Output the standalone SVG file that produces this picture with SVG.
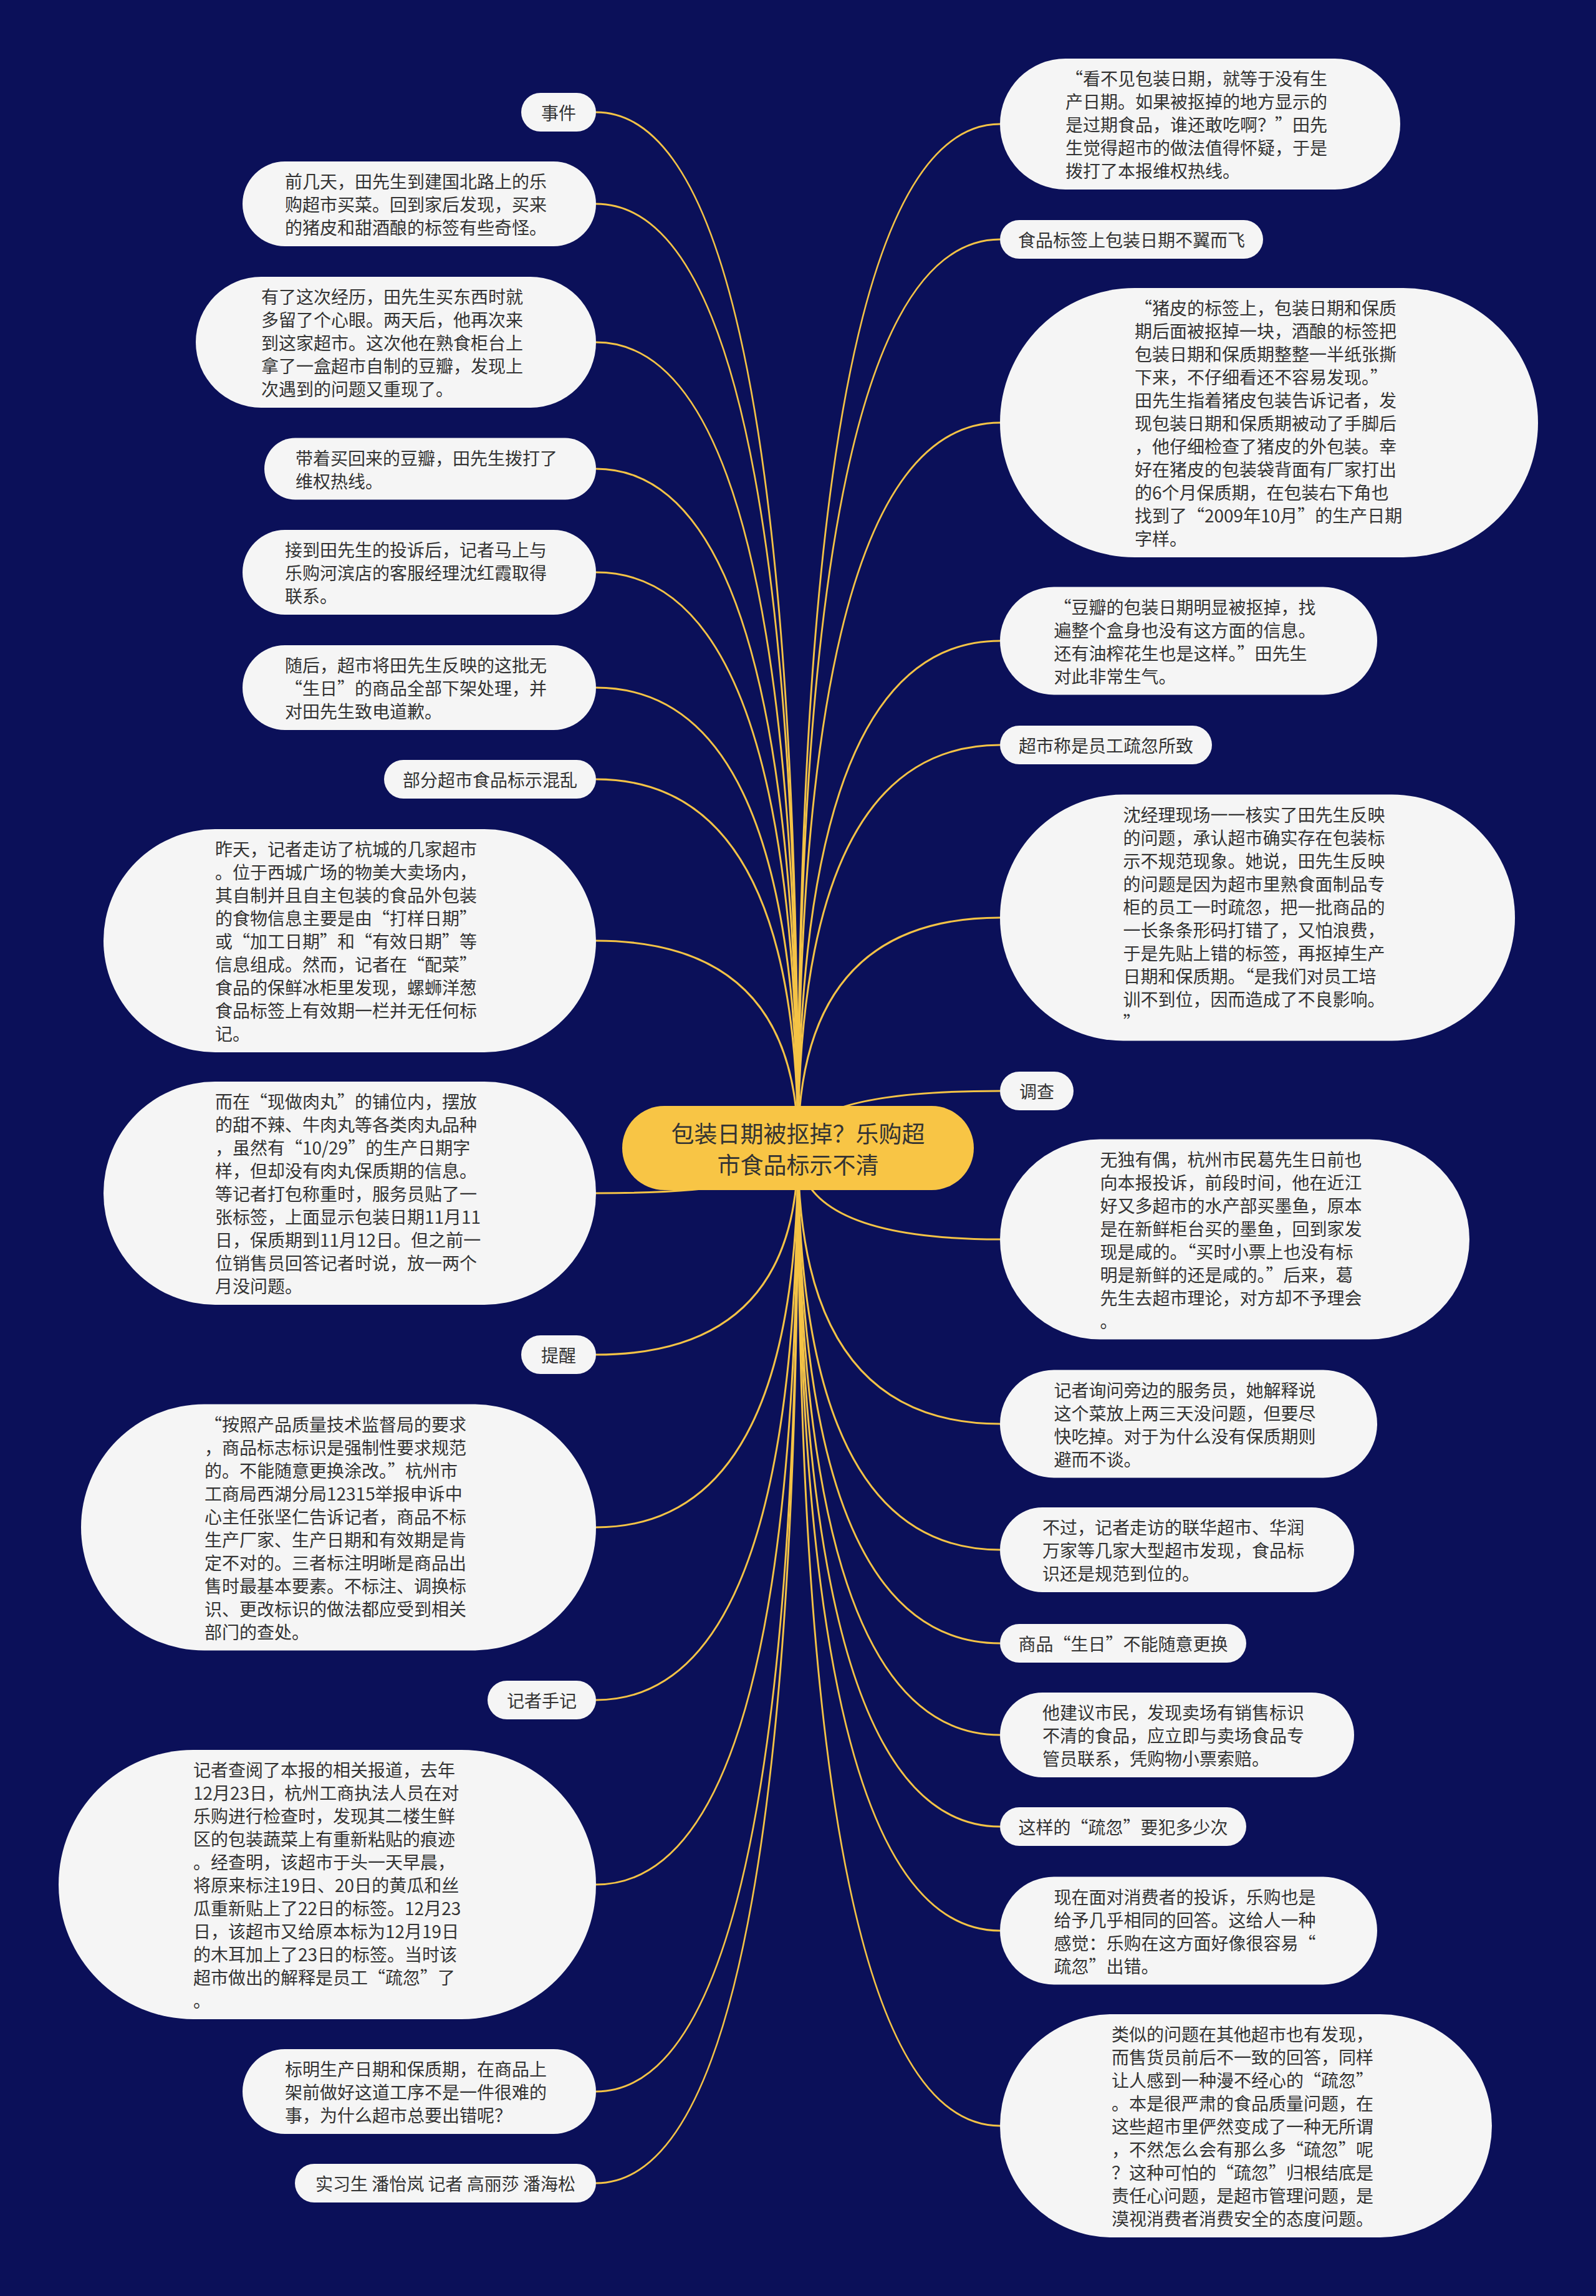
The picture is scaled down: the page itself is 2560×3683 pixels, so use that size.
<svg xmlns="http://www.w3.org/2000/svg" width="2560" height="3683" viewBox="0 0 2560 3683">
<style>
.bg{fill:#0B1059}
.n rect{fill:#F5F5F5}
.t{font-family:"Noto Sans CJK SC","Noto Sans",sans-serif;font-size:28px;fill:#333333;dominant-baseline:central}
.m{text-anchor:middle}
.conn path{fill:none;stroke:#F4C346;stroke-width:3}
.root rect{fill:#F8C545}
.rt{font-family:"Noto Sans CJK SC","Noto Sans",sans-serif;font-size:37px;fill:#333333;dominant-baseline:central;text-anchor:middle}
</style>
<rect class="bg" x="0" y="0" width="2560" height="3683"/>
<g id="connectors" class="conn">
<path d="M1280,1842 Q1280,180 956,180"/>
<path d="M1280,1842 Q1280,327 956,327"/>
<path d="M1280,1842 Q1280,549 956,549"/>
<path d="M1280,1842 Q1280,752 956,752"/>
<path d="M1280,1842 Q1280,918 956,918"/>
<path d="M1280,1842 Q1280,1103 956,1103"/>
<path d="M1280,1842 Q1280,1250 956,1250"/>
<path d="M1280,1842 Q1280,1509 956,1509"/>
<path d="M1280,1842 Q1280,1914 956,1914"/>
<path d="M1280,1842 Q1280,2173 956,2173"/>
<path d="M1280,1842 Q1280,2450 956,2450"/>
<path d="M1280,1842 Q1280,2727 956,2727"/>
<path d="M1280,1842 Q1280,3023 956,3023"/>
<path d="M1280,1842 Q1280,3355 956,3355"/>
<path d="M1280,1842 Q1280,3502 956,3502"/>
<path d="M1280,1842 Q1280,199 1604,199"/>
<path d="M1280,1842 Q1280,384 1604,384"/>
<path d="M1280,1842 Q1280,678 1604,678"/>
<path d="M1280,1842 Q1280,1028 1604,1028"/>
<path d="M1280,1842 Q1280,1195 1604,1195"/>
<path d="M1280,1842 Q1280,1472 1604,1472"/>
<path d="M1280,1842 Q1280,1750 1604,1750"/>
<path d="M1280,1842 Q1280,1988 1604,1988"/>
<path d="M1280,1842 Q1280,2284 1604,2284"/>
<path d="M1280,1842 Q1280,2486 1604,2486"/>
<path d="M1280,1842 Q1280,2636 1604,2636"/>
<path d="M1280,1842 Q1280,2783 1604,2783"/>
<path d="M1280,1842 Q1280,2930 1604,2930"/>
<path d="M1280,1842 Q1280,3097 1604,3097"/>
<path d="M1280,1842 Q1280,3410 1604,3410"/>
</g>
<g id="root" class="root">
<rect x="998" y="1774" width="564" height="135" rx="67.5"/>
<text class="rt"><tspan x="1280" y="1817">包装日期被抠掉？乐购超</tspan><tspan x="1280" y="1867">市食品标示不清</tspan></text>
</g>
<g id="L1" class="n"><rect x="836" y="149" width="120" height="62" rx="31"/><text class="t m" x="896" y="180">事件</text></g>
<g id="L2" class="n"><rect x="389" y="259" width="567" height="136" rx="68"/><text class="t"><tspan x="457" y="290">前几天，田先生到建国北路上的乐</tspan><tspan x="457" y="327">购超市买菜。回到家后发现，买来</tspan><tspan x="457" y="364">的猪皮和甜酒酿的标签有些奇怪。</tspan></text></g>
<g id="L3" class="n"><rect x="314" y="444" width="642" height="210" rx="105"/><text class="t"><tspan x="419" y="475">有了这次经历，田先生买东西时就</tspan><tspan x="419" y="512">多留了个心眼。两天后，他再次来</tspan><tspan x="419" y="549">到这家超市。这次他在熟食柜台上</tspan><tspan x="419" y="586">拿了一盒超市自制的豆瓣，发现上</tspan><tspan x="419" y="623">次遇到的问题又重现了。</tspan></text></g>
<g id="L4" class="n"><rect x="424" y="702.5" width="532" height="99" rx="49.5"/><text class="t"><tspan x="474" y="733.5">带着买回来的豆瓣，田先生拨打了</tspan><tspan x="474" y="770.5">维权热线。</tspan></text></g>
<g id="L5" class="n"><rect x="389" y="850" width="567" height="136" rx="68"/><text class="t"><tspan x="457" y="881">接到田先生的投诉后，记者马上与</tspan><tspan x="457" y="918">乐购河滨店的客服经理沈红霞取得</tspan><tspan x="457" y="955">联系。</tspan></text></g>
<g id="L6" class="n"><rect x="389" y="1035" width="567" height="136" rx="68"/><text class="t"><tspan x="457" y="1066">随后，超市将田先生反映的这批无</tspan><tspan x="457" y="1103">“生日”的商品全部下架处理，并</tspan><tspan x="457" y="1140">对田先生致电道歉。</tspan></text></g>
<g id="L7" class="n"><rect x="616" y="1219" width="340" height="62" rx="31"/><text class="t m" x="786" y="1250">部分超市食品标示混乱</text></g>
<g id="L8" class="n"><rect x="166" y="1330" width="790" height="358" rx="179"/><text class="t"><tspan x="345" y="1361">昨天，记者走访了杭城的几家超市</tspan><tspan x="345" y="1398">。位于西城广场的物美大卖场内，</tspan><tspan x="345" y="1435">其自制并且自主包装的食品外包装</tspan><tspan x="345" y="1472">的食物信息主要是由“打样日期”</tspan><tspan x="345" y="1509">或“加工日期”和“有效日期”等</tspan><tspan x="345" y="1546">信息组成。然而，记者在“配菜”</tspan><tspan x="345" y="1583">食品的保鲜冰柜里发现，螺蛳洋葱</tspan><tspan x="345" y="1620">食品标签上有效期一栏并无任何标</tspan><tspan x="345" y="1657">记。</tspan></text></g>
<g id="L9" class="n"><rect x="166" y="1735" width="790" height="358" rx="179"/><text class="t"><tspan x="345" y="1766">而在“现做肉丸”的铺位内，摆放</tspan><tspan x="345" y="1803">的甜不辣、牛肉丸等各类肉丸品种</tspan><tspan x="345" y="1840">，虽然有“10/29”的生产日期字</tspan><tspan x="345" y="1877">样，但却没有肉丸保质期的信息。</tspan><tspan x="345" y="1914">等记者打包称重时，服务员贴了一</tspan><tspan x="345" y="1951">张标签，上面显示包装日期11月11</tspan><tspan x="345" y="1988">日，保质期到11月12日。但之前一</tspan><tspan x="345" y="2025">位销售员回答记者时说，放一两个</tspan><tspan x="345" y="2062">月没问题。</tspan></text></g>
<g id="L10" class="n"><rect x="836" y="2142" width="120" height="62" rx="31"/><text class="t m" x="896" y="2173">提醒</text></g>
<g id="L11" class="n"><rect x="130" y="2252.5" width="826" height="395" rx="197.5"/><text class="t"><tspan x="328" y="2283.5">“按照产品质量技术监督局的要求</tspan><tspan x="328" y="2320.5">，商品标志标识是强制性要求规范</tspan><tspan x="328" y="2357.5">的。不能随意更换涂改。”杭州市</tspan><tspan x="328" y="2394.5">工商局西湖分局12315举报申诉中</tspan><tspan x="328" y="2431.5">心主任张坚仁告诉记者，商品不标</tspan><tspan x="328" y="2468.5">生产厂家、生产日期和有效期是肯</tspan><tspan x="328" y="2505.5">定不对的。三者标注明晰是商品出</tspan><tspan x="328" y="2542.5">售时最基本要素。不标注、调换标</tspan><tspan x="328" y="2579.5">识、更改标识的做法都应受到相关</tspan><tspan x="328" y="2616.5">部门的查处。</tspan></text></g>
<g id="L12" class="n"><rect x="782" y="2696" width="174" height="62" rx="31"/><text class="t m" x="869" y="2727">记者手记</text></g>
<g id="L13" class="n"><rect x="94" y="2807" width="862" height="432" rx="216"/><text class="t"><tspan x="310" y="2838">记者查阅了本报的相关报道，去年</tspan><tspan x="310" y="2875">12月23日，杭州工商执法人员在对</tspan><tspan x="310" y="2912">乐购进行检查时，发现其二楼生鲜</tspan><tspan x="310" y="2949">区的包装蔬菜上有重新粘贴的痕迹</tspan><tspan x="310" y="2986">。经查明，该超市于头一天早晨，</tspan><tspan x="310" y="3023">将原来标注19日、20日的黄瓜和丝</tspan><tspan x="310" y="3060">瓜重新贴上了22日的标签。12月23</tspan><tspan x="310" y="3097">日，该超市又给原本标为12月19日</tspan><tspan x="310" y="3134">的木耳加上了23日的标签。当时该</tspan><tspan x="310" y="3171">超市做出的解释是员工“疏忽”了</tspan><tspan x="310" y="3208">。</tspan></text></g>
<g id="L14" class="n"><rect x="389" y="3287" width="567" height="136" rx="68"/><text class="t"><tspan x="457" y="3318">标明生产日期和保质期，在商品上</tspan><tspan x="457" y="3355">架前做好这道工序不是一件很难的</tspan><tspan x="457" y="3392">事，为什么超市总要出错呢？</tspan></text></g>
<g id="L15" class="n"><rect x="473" y="3471" width="483" height="62" rx="31"/><text class="t m" x="714.5" y="3502">实习生 潘怡岚 记者 高丽莎 潘海松</text></g>
<g id="R1" class="n"><rect x="1604" y="94" width="642" height="210" rx="105"/><text class="t"><tspan x="1709" y="125">“看不见包装日期，就等于没有生</tspan><tspan x="1709" y="162">产日期。如果被抠掉的地方显示的</tspan><tspan x="1709" y="199">是过期食品，谁还敢吃啊？”田先</tspan><tspan x="1709" y="236">生觉得超市的做法值得怀疑，于是</tspan><tspan x="1709" y="273">拨打了本报维权热线。</tspan></text></g>
<g id="R2" class="n"><rect x="1604" y="353" width="422" height="62" rx="31"/><text class="t m" x="1815" y="384">食品标签上包装日期不翼而飞</text></g>
<g id="R3" class="n"><rect x="1604" y="462" width="863" height="432" rx="216"/><text class="t"><tspan x="1820" y="493">“猪皮的标签上，包装日期和保质</tspan><tspan x="1820" y="530">期后面被抠掉一块，酒酿的标签把</tspan><tspan x="1820" y="567">包装日期和保质期整整一半纸张撕</tspan><tspan x="1820" y="604">下来，不仔细看还不容易发现。”</tspan><tspan x="1820" y="641">田先生指着猪皮包装告诉记者，发</tspan><tspan x="1820" y="678">现包装日期和保质期被动了手脚后</tspan><tspan x="1820" y="715">，他仔细检查了猪皮的外包装。幸</tspan><tspan x="1820" y="752">好在猪皮的包装袋背面有厂家打出</tspan><tspan x="1820" y="789">的6个月保质期，在包装右下角也</tspan><tspan x="1820" y="826">找到了“2009年10月”的生产日期</tspan><tspan x="1820" y="863">字样。</tspan></text></g>
<g id="R4" class="n"><rect x="1604" y="941.5" width="605" height="173" rx="86.5"/><text class="t"><tspan x="1690.5" y="972.5">“豆瓣的包装日期明显被抠掉，找</tspan><tspan x="1690.5" y="1009.5">遍整个盒身也没有这方面的信息。</tspan><tspan x="1690.5" y="1046.5">还有油榨花生也是这样。”田先生</tspan><tspan x="1690.5" y="1083.5">对此非常生气。</tspan></text></g>
<g id="R5" class="n"><rect x="1604" y="1164" width="340" height="62" rx="31"/><text class="t m" x="1774" y="1195">超市称是员工疏忽所致</text></g>
<g id="R6" class="n"><rect x="1604" y="1274.5" width="826" height="395" rx="197.5"/><text class="t"><tspan x="1801.5" y="1305.5">沈经理现场一一核实了田先生反映</tspan><tspan x="1801.5" y="1342.5">的问题，承认超市确实存在包装标</tspan><tspan x="1801.5" y="1379.5">示不规范现象。她说，田先生反映</tspan><tspan x="1801.5" y="1416.5">的问题是因为超市里熟食面制品专</tspan><tspan x="1801.5" y="1453.5">柜的员工一时疏忽，把一批商品的</tspan><tspan x="1801.5" y="1490.5">一长条条形码打错了，又怕浪费，</tspan><tspan x="1801.5" y="1527.5">于是先贴上错的标签，再抠掉生产</tspan><tspan x="1801.5" y="1564.5">日期和保质期。“是我们对员工培</tspan><tspan x="1801.5" y="1601.5">训不到位，因而造成了不良影响。</tspan><tspan x="1801.5" y="1638.5">”</tspan></text></g>
<g id="R7" class="n"><rect x="1604" y="1719" width="118" height="62" rx="31"/><text class="t m" x="1663" y="1750">调查</text></g>
<g id="R8" class="n"><rect x="1604" y="1827.5" width="753" height="321" rx="160.5"/><text class="t"><tspan x="1764.5" y="1858.5">无独有偶，杭州市民葛先生日前也</tspan><tspan x="1764.5" y="1895.5">向本报投诉，前段时间，他在近江</tspan><tspan x="1764.5" y="1932.5">好又多超市的水产部买墨鱼，原本</tspan><tspan x="1764.5" y="1969.5">是在新鲜柜台买的墨鱼，回到家发</tspan><tspan x="1764.5" y="2006.5">现是咸的。“买时小票上也没有标</tspan><tspan x="1764.5" y="2043.5">明是新鲜的还是咸的。”后来，葛</tspan><tspan x="1764.5" y="2080.5">先生去超市理论，对方却不予理会</tspan><tspan x="1764.5" y="2117.5">。</tspan></text></g>
<g id="R9" class="n"><rect x="1604" y="2197.5" width="605" height="173" rx="86.5"/><text class="t"><tspan x="1690.5" y="2228.5">记者询问旁边的服务员，她解释说</tspan><tspan x="1690.5" y="2265.5">这个菜放上两三天没问题，但要尽</tspan><tspan x="1690.5" y="2302.5">快吃掉。对于为什么没有保质期则</tspan><tspan x="1690.5" y="2339.5">避而不谈。</tspan></text></g>
<g id="R10" class="n"><rect x="1604" y="2418" width="568" height="136" rx="68"/><text class="t"><tspan x="1672" y="2449">不过，记者走访的联华超市、华润</tspan><tspan x="1672" y="2486">万家等几家大型超市发现，食品标</tspan><tspan x="1672" y="2523">识还是规范到位的。</tspan></text></g>
<g id="R11" class="n"><rect x="1604" y="2605" width="395" height="62" rx="31"/><text class="t m" x="1801.5" y="2636">商品“生日”不能随意更换</text></g>
<g id="R12" class="n"><rect x="1604" y="2715" width="568" height="136" rx="68"/><text class="t"><tspan x="1672" y="2746">他建议市民，发现卖场有销售标识</tspan><tspan x="1672" y="2783">不清的食品，应立即与卖场食品专</tspan><tspan x="1672" y="2820">管员联系，凭购物小票索赔。</tspan></text></g>
<g id="R13" class="n"><rect x="1604" y="2899" width="395" height="62" rx="31"/><text class="t m" x="1801.5" y="2930">这样的“疏忽”要犯多少次</text></g>
<g id="R14" class="n"><rect x="1604" y="3010.5" width="605" height="173" rx="86.5"/><text class="t"><tspan x="1690.5" y="3041.5">现在面对消费者的投诉，乐购也是</tspan><tspan x="1690.5" y="3078.5">给予几乎相同的回答。这给人一种</tspan><tspan x="1690.5" y="3115.5">感觉：乐购在这方面好像很容易“</tspan><tspan x="1690.5" y="3152.5">疏忽”出错。</tspan></text></g>
<g id="R15" class="n"><rect x="1604" y="3231" width="789" height="358" rx="179"/><text class="t"><tspan x="1783" y="3262">类似的问题在其他超市也有发现，</tspan><tspan x="1783" y="3299">而售货员前后不一致的回答，同样</tspan><tspan x="1783" y="3336">让人感到一种漫不经心的“疏忽”</tspan><tspan x="1783" y="3373">。本是很严肃的食品质量问题，在</tspan><tspan x="1783" y="3410">这些超市里俨然变成了一种无所谓</tspan><tspan x="1783" y="3447">，不然怎么会有那么多“疏忽”呢</tspan><tspan x="1783" y="3484">？这种可怕的“疏忽”归根结底是</tspan><tspan x="1783" y="3521">责任心问题，是超市管理问题，是</tspan><tspan x="1783" y="3558">漠视消费者消费安全的态度问题。</tspan></text></g>
</svg>
